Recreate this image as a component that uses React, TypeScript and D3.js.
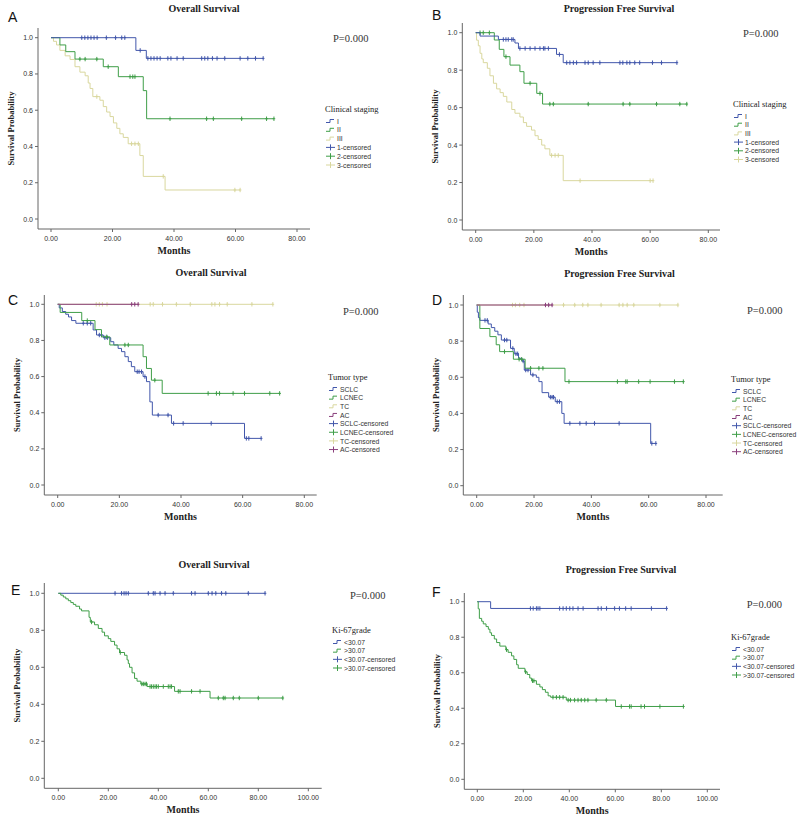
import React from 'react';
import * as d3 from 'd3';

// ---------- colours ----------
const BLUE = '#4257ab';
const GREEN = '#3f9e48';
const YELLOW = '#d9d79e';
const PURPLE = '#8a3f7c';

// ---------- tick labels ----------
const xTicks80 = [0, 20, 40, 60, 80];
const xTicks100 = [0, 20, 40, 60, 80, 100];
const yTicks = [0, 0.2, 0.4, 0.6, 0.8, 1.0];

// ---------- legend labels ----------
const stageLegend = ['I', 'II', 'III', '1-censored', '2-censored', '3-censored'];
const typeLegend = ['SCLC', 'LCNEC', 'TC', 'AC', 'SCLC-censored', 'LCNEC-censored', 'TC-censored', 'AC-censored'];
const kiLegend = ['<30.07', '>30.07', '<30.07-censored', '>30.07-censored'];

// ---------- Panel A : OS by clinical stage ----------
const A_I_t = [27.6, 31];
const A_I_s = [0.93, 0.886];
const A_I_c = [10, 11, 12, 13, 14, 15, 18, 21, 23, 24, 29, 31.5, 32.5, 33.5, 34.5, 35.5, 38, 39, 41, 43, 49, 50, 51, 52.5, 54, 56.5, 61.5, 64, 66.5, 69];
const A_II_t = [2.9, 4.8, 7.8, 17, 21.9, 30, 31.1];
const A_II_s = [0.96, 0.923, 0.882, 0.84, 0.785, 0.708, 0.553];
const A_II_c = [9.4, 11.1, 14.9, 18.6, 25.7, 26.6, 27.3, 38.7, 50.6, 52.8, 62, 70.1, 72.5];
const A_III_t = [0.8, 1.8, 2.9, 4.6, 6.2, 7.8, 9.4, 11.1, 12.1, 12.7, 13.6, 15.9, 17, 18.1, 19.2, 20.3, 21.4, 22.4, 23.5, 25.1, 28.9, 30, 37.1];
const A_III_s = [0.98, 0.96, 0.93, 0.9, 0.88, 0.84, 0.81, 0.79, 0.75, 0.72, 0.675, 0.655, 0.62, 0.59, 0.565, 0.53, 0.5, 0.47, 0.45, 0.415, 0.35, 0.235, 0.16];
const A_III_c = [14.9, 26.2, 27.3, 28.4, 36.5, 59.8, 61.5];

// ---------- Panel B : PFS by clinical stage ----------
const B_I_t = [1.5, 7.8, 13.5, 14.7, 27.8, 30.1];
const B_I_s = [0.982, 0.964, 0.945, 0.916, 0.884, 0.84];
const B_I_c = [9.5, 10.4, 11.2, 12.4, 12.9, 15.2, 17, 18.7, 20.4, 22.1, 23.3, 23.8, 25, 28.8, 31.3, 32.4, 33.6, 34.7, 37.6, 38.7, 40.4, 42.7, 49.6, 50.6, 52, 53, 54.7, 56.4, 60.8, 63.9, 69.2];
const B_II_t = [6.4, 8.1, 9.7, 11.8, 15.2, 16.6, 21, 23];
const B_II_s = [0.961, 0.911, 0.872, 0.827, 0.792, 0.73, 0.676, 0.619];
const B_II_c = [1.5, 2.6, 4.7, 10.4, 18.7, 22.1, 25.5, 26.7, 38.7, 50.7, 53, 62.2, 70.2, 72.6];
const B_III_t = [0.3, 0.9, 1.5, 2.1, 2.6, 4, 4.9, 6.1, 7.2, 8.4, 9.5, 10.7, 12.4, 13.5, 15.2, 16.4, 17.5, 19.2, 20.4, 21.5, 22.7, 23.8, 25.5, 30.1];
const B_III_s = [0.96, 0.93, 0.89, 0.86, 0.84, 0.81, 0.77, 0.73, 0.7, 0.68, 0.66, 0.63, 0.59, 0.57, 0.55, 0.52, 0.5, 0.48, 0.45, 0.43, 0.4, 0.38, 0.345, 0.21];
const B_III_c = [26.1, 27.3, 28.4, 35.9, 60, 61];

// ---------- Panel C : OS by tumour type ----------
const C_SCLC_t = [0.5, 1.5, 2.6, 3.5, 4.5, 5.9, 11.5, 12.6, 14.8, 17.2, 18.2, 19.6, 20.7, 21.8, 22.9, 23.9, 25, 27.7, 28.8, 29.9, 30.7, 36.9, 60.6];
const C_SCLC_s = [0.98, 0.96, 0.945, 0.93, 0.91, 0.895, 0.858, 0.83, 0.815, 0.793, 0.775, 0.756, 0.738, 0.71, 0.683, 0.655, 0.627, 0.6, 0.572, 0.46, 0.387, 0.341, 0.258];
const C_SCLC_c = [8.3, 9.6, 10.7, 13.5, 14.2, 15.3, 16.1, 25.8, 26.4, 27.2, 28.3, 32.6, 35.8, 37.6, 40.7, 49.8, 61.2, 62, 66];
const C_LCNEC_t = [0.8, 7.8, 12.1, 14.2, 16.9, 27.7, 28.8, 30.4, 33.9];
const C_LCNEC_s = [0.955, 0.91, 0.86, 0.82, 0.775, 0.71, 0.645, 0.58, 0.507];
const C_LCNEC_c = [9.6, 15.9, 21.8, 22.9, 31.5, 48.8, 51.5, 52.5, 56.9, 60.6, 68.8, 72];
const C_TC_t: number[] = [];
const C_TC_s: number[] = [];
const C_TC_c = [12.5, 13.5, 14.5, 16, 30, 31, 34, 38.5, 43, 50, 51, 52.5, 55, 63, 69.8];
const C_AC_t: number[] = [];
const C_AC_s: number[] = [];
const C_AC_c = [24, 25, 26.1];

// ---------- Panel D : PFS by tumour type ----------
const D_SCLC_t = [0.2, 0.6, 1.1, 4, 5.1, 6.3, 7.4, 8.6, 11.8, 13.1, 14.6, 15.8, 16.6, 18.8, 20.8, 21.7, 22.8, 25.1, 27.4, 29.7, 30.5, 60.7];
const D_SCLC_s = [0.96, 0.93, 0.915, 0.895, 0.875, 0.855, 0.835, 0.806, 0.76, 0.73, 0.705, 0.69, 0.64, 0.613, 0.6, 0.576, 0.515, 0.49, 0.465, 0.4, 0.345, 0.234];
const D_SCLC_c = [2.9, 3.7, 9.7, 10.5, 12.6, 13.7, 14.3, 16.2, 17.1, 17.9, 19.6, 25.7, 26.3, 26.8, 28.1, 28.9, 32.5, 36, 38.2, 41.1, 49.7, 61.1, 62.5];
const D_LCNEC_t = [1.1, 4.6, 6.8, 8, 12.8, 16.9, 30.8];
const D_LCNEC_s = [0.87, 0.825, 0.78, 0.742, 0.7, 0.65, 0.576];
const D_LCNEC_c = [9.7, 14.8, 15.7, 18.8, 21.7, 23.1, 32.2, 49.1, 52, 52.5, 56.5, 60.5, 69, 72.1];
const D_TC_t: number[] = [];
const D_TC_s: number[] = [];
const D_TC_c = [12.5, 13.5, 15, 16.5, 30.3, 34.2, 37, 38.8, 43.4, 49.7, 51, 52.5, 54.8, 63.9, 70.2];
const D_AC_t: number[] = [];
const D_AC_s: number[] = [];
const D_AC_c = [24, 25.1, 26.3];

// ---------- Panel E : OS by Ki-67 ----------
const E_low_t: number[] = [];
const E_low_s: number[] = [];
const E_low_c = [22.7, 25.3, 26.3, 27.1, 28, 36, 38, 38.7, 40.7, 42.7, 46, 53.3, 54.7, 60, 61.5, 63, 65.3, 67, 76, 82.7];
const E_high_t = [1, 2, 3, 4, 5, 6, 7, 8.5, 9.3, 12.3, 12.8, 14.5, 16, 17.5, 18.5, 20, 21, 22.5, 23.5, 24.5, 26.5, 27.5, 28, 28.5, 29.5, 30.5, 31.5, 33, 35.5, 46.5, 60.7];
const E_high_s = [0.99, 0.98, 0.97, 0.96, 0.95, 0.94, 0.93, 0.915, 0.905, 0.87, 0.845, 0.83, 0.81, 0.79, 0.77, 0.755, 0.74, 0.72, 0.7, 0.68, 0.665, 0.64, 0.62, 0.6, 0.57, 0.54, 0.525, 0.51, 0.496, 0.47, 0.434];
const E_high_c = [13.3, 24.8, 33.4, 34, 34.7, 35.3, 36.7, 37.3, 38, 38.7, 39.3, 40, 42, 44, 44.7, 45.3, 48, 48.7, 53.3, 56.7, 64, 66, 66.7, 70, 72.4, 80, 89.8];

// ---------- Panel F : PFS by Ki-67 ----------
const F_low_t = [5.8];
const F_low_s = [0.962];
const F_low_c = [23.1, 24.3, 25.7, 26.4, 27.2, 35.8, 37.3, 38.7, 40.2, 41.6, 43.8, 46, 52.5, 53.9, 56.2, 59.7, 61.8, 64.5, 66.9, 75.7, 82.3];
const F_high_t = [0.4, 0.9, 1.9, 2.6, 3.8, 4.8, 5.5, 6.2, 7.4, 8.4, 9.8, 12.4, 13.4, 14.9, 15.9, 17.1, 17.8, 20.7, 21.7, 22.8, 23.6, 25.7, 27.2, 28.3, 29.6, 30.8, 31.9, 38.7, 60.1];
const F_high_s = [0.96, 0.906, 0.89, 0.875, 0.86, 0.845, 0.825, 0.81, 0.79, 0.77, 0.75, 0.73, 0.715, 0.695, 0.675, 0.645, 0.625, 0.605, 0.59, 0.57, 0.555, 0.535, 0.52, 0.505, 0.49, 0.47, 0.462, 0.446, 0.41];
const F_high_c = [12.7, 21, 24, 24.6, 32.9, 34.4, 35.8, 37.3, 39.5, 40.5, 42.3, 43.8, 45.2, 46.7, 48.1, 51.7, 56.1, 62.6, 66.2, 66.9, 71.2, 72.7, 79.4, 89.6];

type Series = { color: string; t: number[]; s: number[]; c: number[] };

const panels = [
  {
    letter: 'A', lx: 8, ly: 22, title: 'Overall Survival', tx: 204, ty: 12,
    xMax: 80, xTicks: xTicks80, xr: [51, 297], yr: [219, 37.7],
    ax: 38, aTop: 28, aBot: 229, aRight: 310,
    px: 333, py: 41.5, legX: 325, legY: 112, legStep: 8.8, legTitle: 'Clinical staging', legNames: stageLegend,
    legColors: [BLUE, GREEN, YELLOW, BLUE, GREEN, YELLOW], nLines: 3,
    series: [
      { color: YELLOW, t: A_III_t, s: A_III_s, c: A_III_c },
      { color: GREEN, t: A_II_t, s: A_II_s, c: A_II_c },
      { color: BLUE, t: A_I_t, s: A_I_s, c: A_I_c },
    ] as Series[],
  },
  {
    letter: 'B', lx: 432, ly: 20, title: 'Progression Free Survival', tx: 619, ty: 12,
    xMax: 80, xTicks: xTicks80, xr: [475.7, 708.3], yr: [220, 32.7],
    ax: 462.3, aTop: 23, aBot: 230, aRight: 720,
    px: 743, py: 36.5, legX: 733, legY: 107, legStep: 8.7, legTitle: 'Clinical staging', legNames: stageLegend,
    legColors: [BLUE, GREEN, YELLOW, BLUE, GREEN, YELLOW], nLines: 3,
    series: [
      { color: YELLOW, t: B_III_t, s: B_III_s, c: B_III_c },
      { color: GREEN, t: B_II_t, s: B_II_s, c: B_II_c },
      { color: BLUE, t: B_I_t, s: B_I_s, c: B_I_c },
    ] as Series[],
  },
  {
    letter: 'C', lx: 8, ly: 305, title: 'Overall Survival', tx: 211, ty: 276,
    xMax: 80, xTicks: xTicks80, xr: [57.7, 304.3], yr: [485, 304.3],
    ax: 44.3, aTop: 295, aBot: 495, aRight: 316.7,
    px: 343, py: 315, legX: 328, legY: 380, legStep: 8.65, legTitle: 'Tumor type', legNames: typeLegend,
    legColors: [BLUE, GREEN, YELLOW, PURPLE, BLUE, GREEN, YELLOW, PURPLE], nLines: 4,
    series: [
      { color: BLUE, t: C_SCLC_t, s: C_SCLC_s, c: C_SCLC_c },
      { color: GREEN, t: C_LCNEC_t, s: C_LCNEC_s, c: C_LCNEC_c },
      { color: YELLOW, t: C_TC_t, s: C_TC_s, c: C_TC_c },
      { color: PURPLE, t: C_AC_t, s: C_AC_s, c: C_AC_c },
    ] as Series[],
  },
  {
    letter: 'D', lx: 432, ly: 305, title: 'Progression Free Survival', tx: 619.5, ty: 277,
    xMax: 80, xTicks: xTicks80, xr: [476.7, 706], yr: [485.7, 305],
    ax: 463.3, aTop: 295, aBot: 495, aRight: 722.7,
    px: 747, py: 314, legX: 731, legY: 382, legStep: 8.67, legTitle: 'Tumor type', legNames: typeLegend,
    legColors: [BLUE, GREEN, YELLOW, PURPLE, BLUE, GREEN, YELLOW, PURPLE], nLines: 4,
    series: [
      { color: BLUE, t: D_SCLC_t, s: D_SCLC_s, c: D_SCLC_c },
      { color: GREEN, t: D_LCNEC_t, s: D_LCNEC_s, c: D_LCNEC_c },
      { color: YELLOW, t: D_TC_t, s: D_TC_s, c: D_TC_c },
      { color: PURPLE, t: D_AC_t, s: D_AC_s, c: D_AC_c },
    ] as Series[],
  },
  {
    letter: 'E', lx: 11, ly: 595, title: 'Overall Survival', tx: 214, ty: 568,
    xMax: 100, xTicks: xTicks100, xr: [58.3, 308.3], yr: [778.3, 593.3],
    ax: 44.3, aTop: 583, aBot: 788.3, aRight: 321.7,
    px: 350, py: 598.5, legX: 332, legY: 633, legStep: 8.67, legTitle: 'Ki-67grade', legNames: kiLegend,
    legColors: [BLUE, GREEN, BLUE, GREEN], nLines: 2,
    series: [
      { color: BLUE, t: E_low_t, s: E_low_s, c: E_low_c },
      { color: GREEN, t: E_high_t, s: E_high_s, c: E_high_c },
    ] as Series[],
  },
  {
    letter: 'F', lx: 432, ly: 597, title: 'Progression Free Survival', tx: 621, ty: 573,
    xMax: 100, xTicks: xTicks100, xr: [477.3, 707.3], yr: [779.3, 601.7],
    ax: 464.3, aTop: 593, aBot: 789.3, aRight: 720,
    px: 746.7, py: 607.5, legX: 731, legY: 640, legStep: 8.67, legTitle: 'Ki-67grade', legNames: kiLegend,
    legColors: [BLUE, GREEN, BLUE, GREEN], nLines: 2,
    series: [
      { color: BLUE, t: F_low_t, s: F_low_s, c: F_low_c },
      { color: GREEN, t: F_high_t, s: F_high_s, c: F_high_c },
    ] as Series[],
  },
];

const SERIF = '"Liberation Serif", "Times New Roman", serif';
const SANS = '"Liberation Sans", Arial, sans-serif';
const AXIS = '#666';

function survAt(t: number[], s: number[], x: number) {
  let v = 1;
  for (let i = 0; i < t.length; i++) if (t[i] <= x) v = s[i];
  return v;
}

function Panel({ p }: { p: any }) {
  const x = d3.scaleLinear().domain([0, p.xMax]).range(p.xr);
  const y = d3.scaleLinear().domain([0, 1]).range(p.yr);
  const line = d3
    .line<[number, number]>()
    .x((d) => x(d[0]))
    .y((d) => y(d[1]))
    .curve(d3.curveStepAfter);

  return (
    <g>
      <text x={p.lx} y={p.ly} fontFamily={SANS} fontSize={14} fill="#111">{p.letter}</text>
      <text x={p.tx} y={p.ty} textAnchor="middle" fontFamily={SERIF} fontWeight="bold" fontSize={10} fill="#222">{p.title}</text>
      <text x={p.px} y={p.py} fontFamily={SERIF} fontSize={10.5} fill="#333">P=0.000</text>

      {/* axes */}
      <line x1={p.ax} x2={p.ax} y1={p.aTop} y2={p.aBot} stroke={AXIS} strokeWidth={1} />
      <line x1={p.ax} x2={p.aRight} y1={p.aBot} y2={p.aBot} stroke={AXIS} strokeWidth={1} />
      {yTicks.map((v) => (
        <g key={'y' + v}>
          <line x1={p.ax - 3} x2={p.ax} y1={y(v)} y2={y(v)} stroke={AXIS} />
          <text x={p.ax - 5} y={y(v) + 2.5} textAnchor="end" fontFamily={SANS} fontSize={7} fill="#333">{v.toFixed(1)}</text>
        </g>
      ))}
      {p.xTicks.map((v: number) => (
        <g key={'x' + v}>
          <line x1={x(v)} x2={x(v)} y1={p.aBot} y2={p.aBot + 3} stroke={AXIS} />
          <text x={x(v)} y={p.aBot + 11.5} textAnchor="middle" fontFamily={SANS} fontSize={7} fill="#333">{v.toFixed(2)}</text>
        </g>
      ))}
      <text x={(p.ax + p.aRight) / 2} y={p.aBot + 25} textAnchor="middle" fontFamily={SERIF} fontWeight="bold" fontSize={10} fill="#222">Months</text>
      <text
        transform={`translate(${p.ax - 24},${(p.aTop + p.aBot) / 2}) rotate(-90)`}
        textAnchor="middle" fontFamily={SERIF} fontWeight="bold" fontSize={8.5} fill="#222"
      >Survival Probability</text>

      {/* curves */}
      {p.series.map((se: Series, i: number) => {
        const end = Math.max(se.c.length ? se.c[se.c.length - 1] : 0, se.t.length ? se.t[se.t.length - 1] : 0);
        const pts: [number, number][] = [[0, 1], ...se.t.map((ti, k) => [ti, se.s[k]] as [number, number]), [end, survAt(se.t, se.s, end)]];
        return (
          <g key={'s' + i}>
            <path d={line(pts) || ''} fill="none" stroke={se.color} strokeWidth={1} />
            {se.c.map((ci, k) => {
              const cx = x(ci);
              const cy = y(survAt(se.t, se.s, ci));
              return (
                <g key={k}>
                  <line x1={cx} x2={cx} y1={cy - 2.2} y2={cy + 2.2} stroke={se.color} strokeWidth={1} />
                  <line x1={cx - 1.3} x2={cx + 1.3} y1={cy} y2={cy} stroke={se.color} strokeWidth={1} />
                </g>
              );
            })}
          </g>
        );
      })}

      {/* legend */}
      <text x={p.legX} y={p.legY} fontFamily={SERIF} fontSize={8.5} fill="#222">{p.legTitle}</text>
      {p.legNames.map((n: string, i: number) => {
        const ly = p.legY + 9 + i * p.legStep;
        const col = p.legColors[i];
        const isLine = i < p.nLines;
        return (
          <g key={'l' + i}>
            {isLine ? (
              <path d={`M${p.legX + 1},${ly + 1.5} H${p.legX + 5} V${ly - 1.5} H${p.legX + 9}`} fill="none" stroke={col} strokeWidth={1} />
            ) : (
              <g>
                <line x1={p.legX + 1} x2={p.legX + 10} y1={ly} y2={ly} stroke={col} />
                <line x1={p.legX + 5.5} x2={p.legX + 5.5} y1={ly - 3} y2={ly + 3} stroke={col} />
              </g>
            )}
            <text x={p.legX + 12} y={ly + 2.6} fontFamily={SANS} fontSize={6.8} fill="#333">{n}</text>
          </g>
        );
      })}
    </g>
  );
}

export default function App() {
  return (
    <svg width={800} height={815} style={{ position: 'absolute', left: 0, top: 0, background: '#fff' }}>
      <rect x={0} y={0} width={800} height={815} fill="#fff" />
      {panels.map((p) => (
        <Panel key={p.letter} p={p} />
      ))}
    </svg>
  );
}
